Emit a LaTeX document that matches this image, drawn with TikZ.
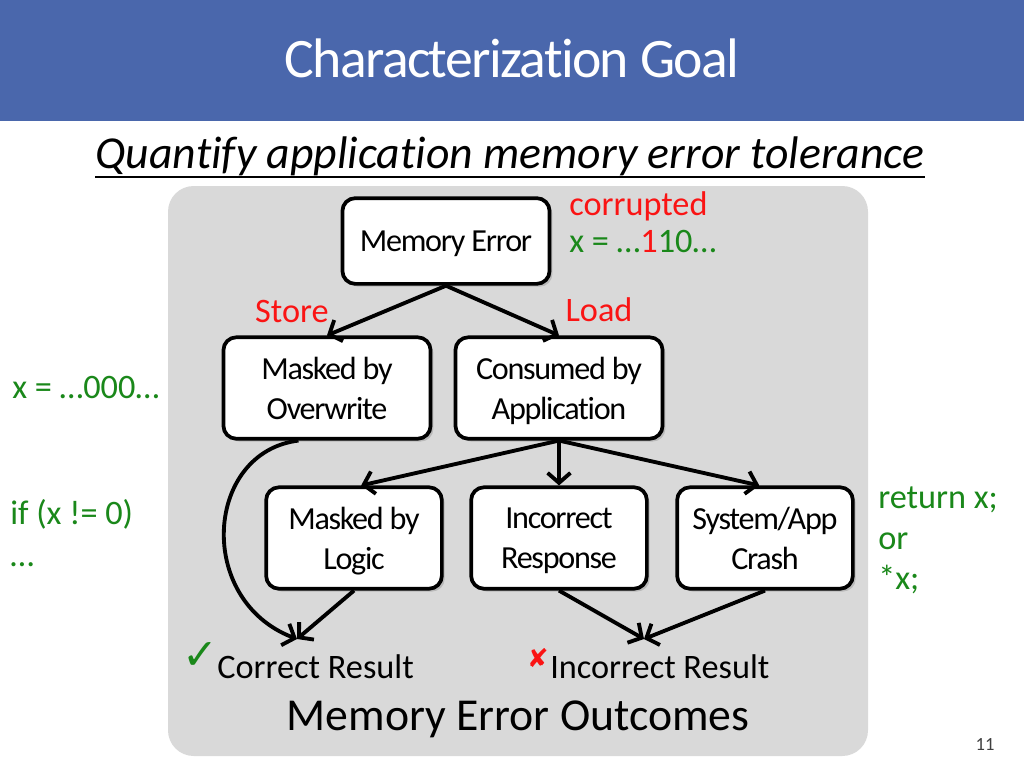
\documentclass[tikz,border=0pt]{standalone}
\usepackage{fontspec}
\setmainfont{Carlito}[Ligatures=NoCommon]
\newfontfamily\tightfont[LetterSpace=-4,Ligatures=NoCommon]{Carlito}
\newfontfamily\titlefont[LetterSpace=-3,Ligatures=NoCommon]{Carlito}
\newfontfamily\symbfont{DejaVu Sans}
\usetikzlibrary{arrows.meta,positioning,shadows}

\definecolor{slideblue}{RGB}{74,103,172}
\definecolor{panelgray}{RGB}{217,217,217}
\definecolor{codegreen}{RGB}{26,136,26}
\definecolor{hotred}{RGB}{250,20,20}

\begin{document}
\begin{tikzpicture}[
  x=0.7pt, y=-0.7pt,
  >={Straight Barb[length=7pt,width=16pt]},
  outcome/.style={draw,line width=2.6pt,rounded corners=9pt,fill=white,align=center,
    minimum width=145pt,minimum height=71pt,inner sep=2pt,text depth=0pt,
    font=\tightfont\fontsize{22.5}{28}\selectfont,
    drop shadow={shadow xshift=2pt,shadow yshift=-2pt,opacity=.35}},
  leaf/.style={outcome,minimum width=123pt},
  flow/.style={->,line width=2.7pt},
  code/.style={anchor=base west,inner sep=0pt,text=codegreen,font=\fontsize{24}{28}\selectfont},
  tag/.style={anchor=base,inner sep=0pt,text=hotred,font=\fontsize{24}{28}\selectfont}
]
  \useasboundingbox (0,0) rectangle (1024,768);
  \fill[white] (0,0) rectangle (1024,768);

  % title bar
  \fill[slideblue] (0,0) rectangle (1024,121);
  \node[text=white,font=\titlefont\fontsize{39}{44}\selectfont] (title) at (512,58) {Characterization Goal};
  \node[anchor=base,inner sep=0pt,font=\itshape\fontsize{32}{36}\selectfont] (goal) at (510,168)
    {Quantify application memory error tolerance};
  \draw[line width=1.4pt] ([yshift=-6pt]goal.base west) -- ([yshift=-6pt]goal.base east);

  % grey panel
  \fill[panelgray,rounded corners=18pt] (168,186) rectangle (868,756);

  % boxes
  \node[outcome,minimum height=60pt] (memerr) at (446,241) {Memory Error};
  \node[outcome] (overwrite) at (327,388) {Masked by\\Overwrite};
  \node[outcome] (consumed) at (559,388) {Consumed by\\Application};
  \node[leaf] (logic) at (354,538) {Masked by\\Logic};
  \node[leaf] (response) at (559,538) {Incorrect\\Response};
  \node[leaf] (crash) at (765,538) {System/App\\Crash};

  \coordinate (good) at (297,639);
  \coordinate (bad) at (644,639);

  % connectors
  \draw[flow] (memerr.south) -- (overwrite.north);
  \draw[flow] (memerr.south) -- (consumed.north);
  \draw[flow] (consumed.south) -- ([xshift=5pt]logic.north);
  \draw[flow] (consumed.south) -- (response.north);
  \draw[flow] (consumed.south) -- ([xshift=-4pt]crash.north);
  \draw[flow] ([xshift=-20pt]overwrite.south) .. controls (205,452) and (195,600) .. (good);
  \draw[flow] (logic.south) -- (good);
  \draw[flow] (response.south) -- (bad);
  \draw[flow] (crash.south) -- (bad);

  % labels
  \node[tag] (store) at (292,322) {Store};
  \node[tag] (load) at (599,321) {Load};
  \node[tag,anchor=base west] (corrupt) at (569,215) {corrupted};
  \node[code] (xbad) at (569,252) {x = …\textcolor{hotred}{1}10…};
  \node[code] (xzero) at (12,398) {x = …000…};
  \node[code] (ifx) at (10,524) {if (x != 0)};
  \node[code] (ifdots) at (10,566) {…};
  \node[code] (ret) at (878,508) {return x;};
  \node[code] (retor) at (878,549) {or};
  \node[code] (deref) at (878,589) {*x;};

  % outcomes
  \node[anchor=base west,inner sep=0pt,text=codegreen,font=\symbfont\fontsize{30}{30}\selectfont] (tick) at (182,669) {✓};
  \node[anchor=base west,inner sep=0pt,font=\fontsize{24}{28}\selectfont] (okres) at (217,678) {Correct Result};
  \node[anchor=base east,inner sep=0pt,text=hotred,font=\symbfont\fontsize{18}{18}\selectfont] (cross) at (549,667) {✘};
  \node[anchor=base west,inner sep=0pt,font=\fontsize{24}{28}\selectfont] (badres) at (550,678) {Incorrect Result};
  \node[anchor=base,inner sep=0pt,font=\fontsize{32}{36}\selectfont] (outcomes) at (518,730) {Memory Error Outcomes};

  \node[anchor=base,inner sep=0pt,text=black!75,font=\fontsize{13}{14}\selectfont] (pageno) at (985,750) {11};
\end{tikzpicture}
\end{document}
